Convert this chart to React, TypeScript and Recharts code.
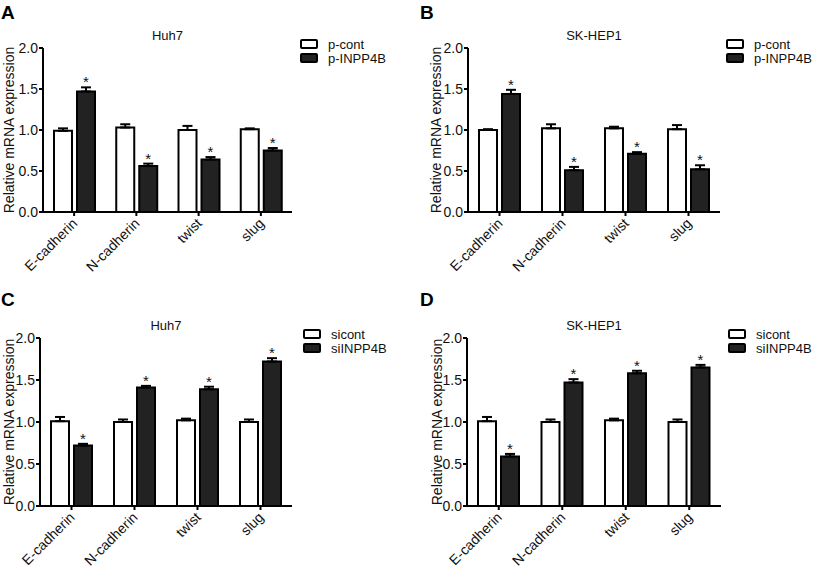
import { BarChart, Bar, XAxis, YAxis, ErrorBar, LabelList } from "recharts";

const genes = ["E-cadherin", "N-cadherin", "twist", "slug"];
const yTicks = [0, 0.5, 1, 1.5, 2];

const overLabels = ["p-cont", "p-INPP4B"];
const knockLabels = ["sicont", "siINPP4B"];

// A: Huh7, overexpression
const huh7PCont = [0.99, 1.03, 1.0, 1.01];
const huh7PContErr = [0.03, 0.04, 0.05, 0.01];
const huh7PInpp = [1.47, 0.56, 0.64, 0.75];
const huh7PInppErr = [0.05, 0.03, 0.03, 0.03];

// B: SK-HEP1, overexpression
const skPCont = [1.0, 1.02, 1.02, 1.01];
const skPContErr = [0.01, 0.05, 0.02, 0.05];
const skPInpp = [1.44, 0.51, 0.71, 0.52];
const skPInppErr = [0.05, 0.04, 0.02, 0.05];

// C: Huh7, knockdown
const huh7SiCont = [1.01, 1.0, 1.02, 1.0];
const huh7SiContErr = [0.05, 0.03, 0.02, 0.03];
const huh7SiInpp = [0.72, 1.41, 1.39, 1.72];
const huh7SiInppErr = [0.02, 0.02, 0.03, 0.04];

// D: SK-HEP1, knockdown
const skSiCont = [1.01, 1.0, 1.02, 1.0];
const skSiContErr = [0.05, 0.03, 0.02, 0.03];
const skSiInpp = [0.59, 1.47, 1.58, 1.65];
const skSiInppErr = [0.03, 0.04, 0.03, 0.03];

const FONT = "'Liberation Sans', Arial, sans-serif";
const DARK = "#222222";

function buildRows(ctrl: number[], ctrlErr: number[], treat: number[], treatErr: number[]) {
  return genes.map((g, i) => ({
    gene: g,
    ctrl: ctrl[i],
    ctrlErr: [0, ctrlErr[i]],
    treat: treat[i],
    treatErr: [0, treatErr[i]],
  }));
}

function GeneTick(props: any) {
  const { x, y, payload } = props;
  const ox = x - 3;
  const oy = y - 1;
  return (
    <text
      x={ox}
      y={oy}
      dy="0.72em"
      textAnchor="end"
      transform={`rotate(-45 ${ox} ${oy})`}
      fontSize={14}
      fontFamily={FONT}
      fill="#111"
    >
      {payload.value}
    </text>
  );
}

// asterisk sits just above the error cap of each treated bar
function makeStar(errs: number[]) {
  return (props: any) => {
    const vb = props.viewBox || {};
    const x = props.x ?? vb.x;
    const y = props.y ?? vb.y;
    const width = props.width ?? vb.width;
    const height = props.height ?? vb.height;
    const value = Number(props.value);
    const idx = props.index ?? 0;
    const perUnit = value ? height / value : 0;
    const top = y - errs[idx] * perUnit;
    return (
      <text x={x + width / 2} y={top} textAnchor="middle" fontSize={15} fontFamily={FONT} fill="#111">
        *
      </text>
    );
  };
}

type PanelProps = {
  letter: string;
  title: string;
  names: string[];
  ctrl: number[];
  ctrlErr: number[];
  treat: number[];
  treatErr: number[];
  plot: { x: number; y: number; w: number; h: number };
  legendX: number;
  labelX: number;
  letterPos: { x: number; y: number };
};

function Panel(p: PanelProps) {
  const rows = buildRows(p.ctrl, p.ctrlErr, p.treat, p.treatErr);
  const ml = 13;
  const yw = 30;
  const mt = p.plot.y > 200 ? 50 : 48;
  const chartW = ml + yw + p.plot.w + 8;
  const chartH = mt + p.plot.h + 78;
  return (
    <>
      <div
        style={{ position: "absolute", left: p.letterPos.x, top: p.letterPos.y, fontSize: 19, fontWeight: 700, fontFamily: FONT, color: "#000", lineHeight: 1 }}
      >
        {p.letter}
      </div>
      <div
        style={{
          position: "absolute",
          left: p.plot.x,
          width: p.plot.w,
          top: p.plot.y - 19,
          textAlign: "center",
          fontSize: 13,
          fontFamily: FONT,
          color: "#111",
          lineHeight: 1,
        }}
      >
        {p.title}
      </div>
      <div
        style={{
          position: "absolute",
          left: p.labelX - 100,
          top: p.plot.y + p.plot.h / 2 - 8,
          width: 200,
          height: 16,
          textAlign: "center",
          fontSize: 14,
          fontFamily: FONT,
          color: "#111",
          lineHeight: "16px",
          transform: "rotate(-90deg)",
        }}
      >
        Relative mRNA expression
      </div>
      <div style={{ position: "absolute", left: p.legendX, top: p.plot.y - 11, fontFamily: FONT, fontSize: 13, color: "#111" }}>
        {p.names.map((n, i) => (
          <div key={n} style={{ display: "flex", alignItems: "center", height: 14 }}>
            <span
              style={{
                display: "inline-block",
                width: 14,
                height: 6,
                border: "2px solid #000",
                borderRadius: 2,
                background: i === 0 ? "#fff" : DARK,
                marginRight: 10,
              }}
            />
            <span>{n}</span>
          </div>
        ))}
      </div>
      <div style={{ position: "absolute", left: p.plot.x - ml - yw, top: p.plot.y - mt }}>
        <BarChart
          width={chartW}
          height={chartH}
          data={rows}
          margin={{ top: mt, right: 8, bottom: 8, left: ml }}
          barSize={18}
          barGap={5}
        >
          <XAxis
            dataKey="gene"
            height={70}
            interval={0}
            tickSize={4}
            tickMargin={2}
            tick={<GeneTick />}
            axisLine={{ stroke: "#000", strokeWidth: 2 }}
            tickLine={{ stroke: "#000", strokeWidth: 2 }}
          />
          <YAxis
            width={yw}
            domain={[0, 2]}
            ticks={yTicks}
            interval={0}
            tickSize={4}
            tickMargin={1}
            tickFormatter={(v: number) => v.toFixed(1)}
            tick={{ fontSize: 14, fontFamily: FONT, fill: "#111" }}
            axisLine={{ stroke: "#000", strokeWidth: 2 }}
            tickLine={{ stroke: "#000", strokeWidth: 2 }}
          />
          <Bar dataKey="ctrl" fill="#fff" stroke="#000" strokeWidth={2} isAnimationActive={false}>
            <ErrorBar dataKey="ctrlErr" width={5} stroke="#000" strokeWidth={2} direction="y" />
          </Bar>
          <Bar dataKey="treat" fill={DARK} stroke="#000" strokeWidth={2} isAnimationActive={false}>
            <ErrorBar dataKey="treatErr" width={5} stroke="#000" strokeWidth={2} direction="y" />
            <LabelList dataKey="treat" content={makeStar(p.treatErr)} />
          </Bar>
        </BarChart>
      </div>
    </>
  );
}

export default function App() {
  return (
    <div style={{ position: "absolute", left: 0, top: 0, width: 816, height: 576, background: "#fff", overflow: "hidden" }}>
      <Panel
        letter="A"
        title="Huh7"
        names={overLabels}
        ctrl={huh7PCont}
        ctrlErr={huh7PContErr}
        treat={huh7PInpp}
        treatErr={huh7PInppErr}
        plot={{ x: 43, y: 48, w: 249, h: 164 }}
        legendX={300}
        labelX={9}
        letterPos={{ x: 1, y: 3 }}
      />
      <Panel
        letter="B"
        title="SK-HEP1"
        names={overLabels}
        ctrl={skPCont}
        ctrlErr={skPContErr}
        treat={skPInpp}
        treatErr={skPInppErr}
        plot={{ x: 468, y: 48, w: 252, h: 164 }}
        legendX={726}
        labelX={436}
        letterPos={{ x: 420, y: 3 }}
      />
      <Panel
        letter="C"
        title="Huh7"
        names={knockLabels}
        ctrl={huh7SiCont}
        ctrlErr={huh7SiContErr}
        treat={huh7SiInpp}
        treatErr={huh7SiInppErr}
        plot={{ x: 40, y: 338, w: 252, h: 168 }}
        legendX={303}
        labelX={9}
        letterPos={{ x: 1, y: 290 }}
      />
      <Panel
        letter="D"
        title="SK-HEP1"
        names={knockLabels}
        ctrl={skSiCont}
        ctrlErr={skSiContErr}
        treat={skSiInpp}
        treatErr={skSiInppErr}
        plot={{ x: 467, y: 338, w: 254, h: 168 }}
        legendX={728}
        labelX={437}
        letterPos={{ x: 420, y: 290 }}
      />
    </div>
  );
}
